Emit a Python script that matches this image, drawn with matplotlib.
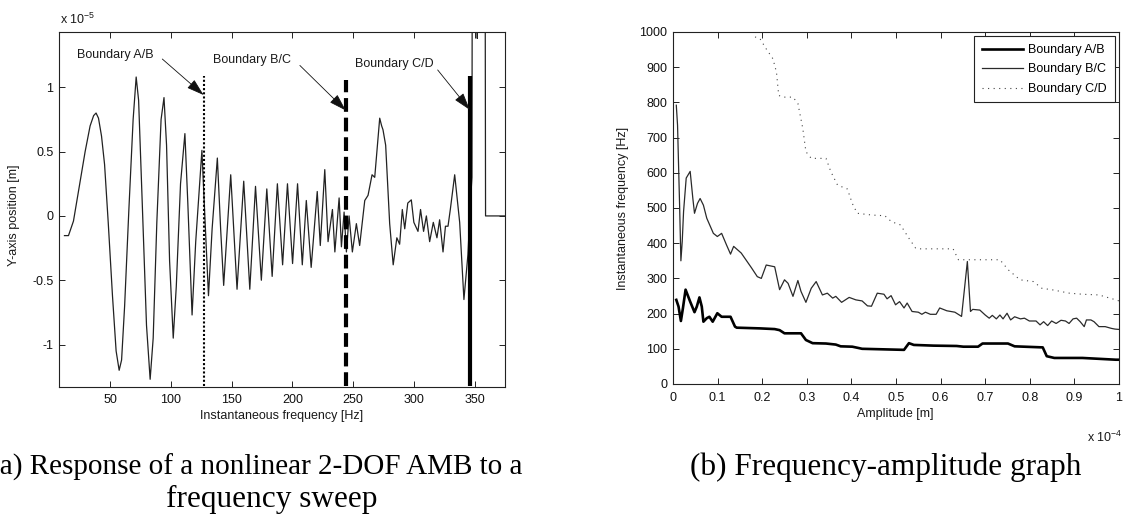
import matplotlib
matplotlib.use('Agg')
import matplotlib.pyplot as plt

plt.rcParams['font.family'] = ['Liberation Sans', 'DejaVu Sans']
plt.rcParams['font.size'] = 9

# ---------------- data: (a) frequency sweep response (units of 1e-5 m) ----------------
sweep_freq_hz = [12.5, 15.8, 19.9, 24.0, 29.5, 33.6, 36.5, 38.5, 40.5, 43.0, 45.5, 48.5, 52.0, 55.0,
                 57.5, 59.5, 62.0, 65.5, 69.0, 71.5, 73.5, 76.5, 80.0, 83.0, 85.5, 88.5, 92.0, 94.4,
                 96.5, 99.0, 102.0, 104.5, 108.0, 111.6, 114.0, 117.5, 120.5, 125.6, 128.0, 131.0,
                 134.0, 138.3, 141.0, 143.5, 149.3, 154.5, 160.0, 165.0, 169.7, 174.5, 179.0, 183.4,
                 187.7, 192.0, 196.0, 200.2, 204.3, 208.2, 211.5, 215.5, 220.5, 223.0, 226.7, 229.4,
                 233.0, 235.0, 238.5, 240.4, 242.6, 244.5, 246.7, 249.4, 252.7, 255.4, 259.6, 262.3,
                 265.6, 267.8, 271.9, 273.5, 274.6, 276.8, 280.1, 283.0, 286.0, 288.3, 290.5, 292.5,
                 295.0, 297.9, 300.0, 303.4, 305.5, 308.0, 310.3, 313.0, 316.0, 319.0, 321.2, 324.0,
                 326.0, 328.1, 330.0, 333.6, 337.7, 341.2, 344.5, 346.5, 347.8, 348.2, 351.5, 352.2,
                 352.8, 358.5, 359.0, 376.0]
sweep_pos = [-0.153, -0.153, -0.04, 0.19, 0.50, 0.70, 0.78, 0.80, 0.76, 0.62, 0.40, -0.05, -0.62, -1.05,
             -1.20, -1.12, -0.70, 0.05, 0.75, 1.08, 0.90, 0.10, -0.85, -1.27, -0.95, -0.05, 0.75, 0.92,
             0.55, -0.35, -0.95, -0.55, 0.25, 0.64, 0.10, -0.77, -0.20, 0.51, 0.0, -0.62,
             -0.10, 0.45, -0.10, -0.54, 0.32, -0.57, 0.27, -0.57, 0.23, -0.50, 0.21, -0.47,
             0.25, -0.38, 0.25, -0.37, 0.25, -0.38, 0.12, -0.40, 0.19, -0.23, 0.36, -0.20,
             0.05, -0.28, 0.14, -0.24, 0.03, -0.28, 0.0, -0.28, -0.06, -0.23, 0.12, 0.16,
             0.32, 0.30, 0.76, 0.70, 0.67, 0.55, -0.06, -0.38, -0.17, -0.22, 0.05, -0.10,
             0.10, 0.125, -0.05, -0.12, 0.05, -0.12, 0.0, -0.20, -0.05, -0.17, -0.03, -0.28,
             -0.08, -0.08, 0.05, 0.32, -0.05, -0.65, -0.30, 0.10, 0.30, 3.0, 3.0, 1.38,
             3.0, 3.0, 0.0, 0.0]

boundary_names = ['Boundary A/B', 'Boundary B/C', 'Boundary C/D']
boundary_freq_hz = [127.0, 244.0, 346.5]
boundary_top = [1.09, 1.06, 1.085]
boundary_bottom = -1.32
label_xy = [(22.9, 1.25), (134.7, 1.21), (251.4, 1.18)]
arrow_tail = [(93.0, 1.22), (206.2, 1.17), (319.6, 1.135)]
arrow_head = [(127.0, 0.94), (244.0, 0.82), (346.0, 0.825)]

xticks_a = [50, 100, 150, 200, 250, 300, 350]
yticks_a = [-1, -0.5, 0, 0.5, 1]
yticklabels_a = ['-1', '-0.5', '0', '0.5', '1']

# ---------------- data: (b) frequency-amplitude graph (amplitude in 1e-4 m) ----------------
amp_ab = [0.0074, 0.0124, 0.0177, 0.0222, 0.0282, 0.0385, 0.0482, 0.0534, 0.0593, 0.0645,
          0.0682, 0.0757, 0.0816, 0.089, 0.0994, 0.109, 0.129, 0.139, 0.143, 0.195,
          0.228, 0.239, 0.250, 0.287, 0.298, 0.313, 0.343, 0.365, 0.376, 0.402,
          0.417, 0.424, 0.518, 0.529, 0.540, 0.584, 0.636, 0.651, 0.684, 0.694,
          0.751, 0.766, 0.829, 0.838, 0.855, 0.918, 0.993, 1.0]
freq_ab = [239, 220, 179, 215, 268, 234, 204, 220, 246, 220,
           177, 187, 191, 177, 201, 191, 191, 163, 160, 158,
           156, 153, 144, 144, 125, 116, 115, 112, 107, 106,
           102, 100, 97, 116, 111, 109, 108, 106, 106, 115,
           115, 107, 104, 79, 74, 74, 69, 69]

amp_bc = [0.0074, 0.0102, 0.0124, 0.0148, 0.0177, 0.0207, 0.0237, 0.0296, 0.0385, 0.0445,
          0.0482, 0.0549, 0.0608, 0.0682, 0.0757, 0.0905, 0.0994, 0.109, 0.120, 0.129,
          0.136, 0.153, 0.176, 0.189, 0.198, 0.209, 0.228, 0.239, 0.250, 0.258,
          0.269, 0.280, 0.287, 0.298, 0.310, 0.321, 0.335, 0.346, 0.358, 0.365,
          0.378, 0.395, 0.410, 0.424, 0.436, 0.445, 0.458, 0.473, 0.480, 0.489,
          0.499, 0.508, 0.518, 0.525, 0.536, 0.550, 0.558, 0.566, 0.577, 0.590,
          0.598, 0.614, 0.632, 0.647, 0.660, 0.667, 0.672, 0.688, 0.700, 0.709,
          0.716, 0.725, 0.733, 0.740, 0.749, 0.757, 0.766, 0.779, 0.788, 0.799,
          0.814, 0.823, 0.831, 0.840, 0.849, 0.859, 0.870, 0.880, 0.888, 0.897,
          0.905, 0.913, 0.922, 0.927, 0.937, 0.944, 0.955, 0.969, 0.983, 0.991,
          1.0]
freq_bc = [792, 735, 625, 508, 350, 405, 490, 585, 604, 527,
           485, 513, 527, 508, 471, 428, 419, 428, 395, 369,
           391, 372, 330, 305, 300, 338, 333, 268, 296, 286,
           249, 294, 263, 232, 272, 291, 253, 258, 244, 249,
           232, 246, 239, 236, 222, 221, 258, 255, 242, 251,
           225, 234, 216, 230, 206, 204, 198, 204, 198, 198,
           216, 208, 204, 192, 348, 206, 212, 210, 196, 187,
           195, 185, 196, 185, 201, 182, 191, 185, 187, 179,
           179, 168, 177, 166, 179, 172, 181, 179, 172, 185,
           187, 177, 163, 182, 182, 177, 163, 163, 158, 156,
           155]

amp_cd = [0.184, 0.195, 0.209, 0.224, 0.232, 0.237, 0.246, 0.269, 0.280, 0.291,
          0.298, 0.310, 0.343, 0.354, 0.369, 0.391, 0.402, 0.413, 0.446, 0.475,
          0.490, 0.510, 0.529, 0.544, 0.554, 0.628, 0.640, 0.733, 0.752, 0.778,
          0.808, 0.827, 0.853, 0.889, 0.918, 0.955, 0.993, 1.0]
freq_cd = [986, 981, 952, 924, 886, 820, 815, 815, 797, 726,
           660, 641, 641, 603, 565, 554, 513, 485, 480, 478,
           461, 452, 414, 386, 384, 384, 353, 353, 324, 296,
           291, 272, 267, 258, 255, 253, 239, 236]

xticks_b = [0, 0.1, 0.2, 0.3, 0.4, 0.5, 0.6, 0.7, 0.8, 0.9, 1]
xticklabels_b = ['0', '0.1', '0.2', '0.3', '0.4', '0.5', '0.6', '0.7', '0.8', '0.9', '1']
yticks_b = [0, 100, 200, 300, 400, 500, 600, 700, 800, 900, 1000]

# ---------------- figure ----------------
W, H = 1123, 514
fig = plt.figure(figsize=(W / 100, H / 100), dpi=100)


def px_axes(l, t, r, b):
    return fig.add_axes([l / W, 1 - b / H, (r - l) / W, (b - t) / H])


def fx(px):
    return px / W


def fy(py):
    return 1 - py / H


def style(ax):
    for s in ax.spines.values():
        s.set_linewidth(0.8)
        s.set_color('#222222')
    ax.tick_params(direction='in', length=4, width=0.7, top=True, right=True,
                   labelsize=9, pad=4, color='#222222', labelcolor='#111111')


ink = '#1a1a1a'

# ----- (a) -----
axL = px_axes(59, 32, 505, 387)
style(axL)
axL.plot(sweep_freq_hz, sweep_pos, color='#222222', lw=0.9, zorder=2)
styles = [dict(ls=(0, (1, 1)), lw=1.5), dict(ls=(0, (3.3, 1.4)), lw=3.0), dict(ls='-', lw=3.0)]
for f, top, st in zip(boundary_freq_hz, boundary_top, styles):
    axL.plot([f, f], [boundary_bottom, top], color='black', zorder=3, solid_capstyle='butt',
             dash_capstyle='butt', **st)
for name, lxy, tail, head in zip(boundary_names, label_xy, arrow_tail, arrow_head):
    axL.text(lxy[0], lxy[1], name, ha='left', va='center', fontsize=9, color=ink)
    axL.annotate('', xy=head, xytext=tail,
                 arrowprops=dict(arrowstyle='-|>,head_length=0.9,head_width=0.28', color='#111111',
                                 lw=0.6, shrinkA=0, shrinkB=0, mutation_scale=12))
axL.set_xlim(8, 375)
axL.set_ylim(-1.33, 1.43)
axL.set_xticks(xticks_a)
axL.set_yticks(yticks_a)
axL.set_yticklabels(yticklabels_a)
axL.tick_params(axis='x', pad=5)
fig.text(fx(282), fy(416.5), 'Instantaneous frequency [Hz]', ha='center', va='center', fontsize=9, color=ink)
fig.text(fx(14), fy(215), 'Y-axis position [m]', ha='center', va='center', rotation=90, fontsize=9, color=ink)
fig.text(fx(60), fy(24), r'x 10$^{\mathdefault{-5}}$', ha='left', va='baseline', fontsize=9, color=ink)

# ----- (b) -----
axR = px_axes(673, 32, 1119, 384)
style(axR)
axR.plot(amp_ab, freq_ab, color='black', lw=1.9, label='Boundary A/B', zorder=3)
axR.plot(amp_bc, freq_bc, color='#2a2a2a', lw=0.9, label='Boundary B/C', zorder=2)
axR.plot(amp_cd, freq_cd, color='#444444', lw=0.8, ls=(0, (1, 4)), label='Boundary C/D', zorder=2)
axR.set_xlim(0, 1)
axR.set_ylim(0, 1000)
axR.set_xticks(xticks_b)
axR.set_xticklabels(xticklabels_b)
axR.set_yticks(yticks_b)
axR.tick_params(axis='x', pad=5.5)
leg = axR.legend(loc='upper right', fontsize=9, frameon=True, fancybox=False, shadow=False,
                 handlelength=3.3, handletextpad=0.45, labelspacing=0.6, borderpad=0.6,
                 borderaxespad=0.35, edgecolor='#222222', framealpha=1)
leg.get_frame().set_linewidth(0.8)
fig.text(fx(895), fy(414), 'Amplitude [m]', ha='center', va='center', fontsize=9, color=ink)
fig.text(fx(623), fy(208), 'Instantaneous frequency [Hz]', ha='center', va='center', rotation=90,
         fontsize=9, color=ink)
fig.text(fx(1122), fy(442), r'x 10$^{\mathdefault{-4}}$', ha='right', va='baseline', fontsize=9, color=ink)

# ----- captions -----
cap = dict(family=['Liberation Serif', 'DejaVu Serif'], color='black', va='baseline')
fig.text(fx(256), fy(475), '(a) Response of a nonlinear 2-DOF AMB to a', ha='center', fontsize=21, **cap)
fig.text(fx(272), fy(507), 'frequency sweep', ha='center', fontsize=22.5, **cap)
fig.text(fx(886), fy(475), '(b) Frequency-amplitude graph', ha='center', fontsize=22.5, **cap)

fig.savefig('out.png', dpi=100)
